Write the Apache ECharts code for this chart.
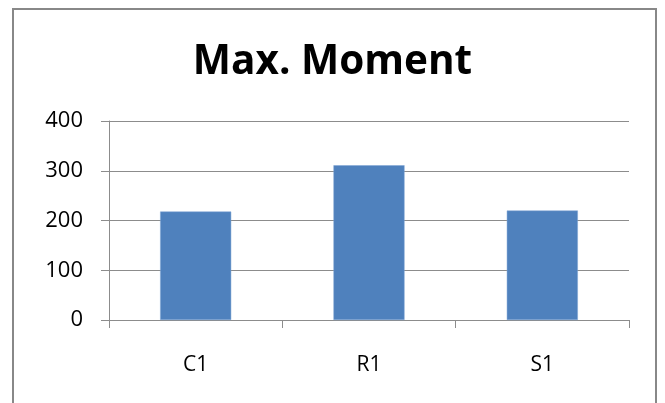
<!DOCTYPE html>
<html>
<head>
<meta charset="utf-8">
<script src="https://cdn.jsdelivr.net/npm/echarts@6/dist/echarts.min.js"></script>
<style>
html,body{margin:0;padding:0;background:#fff;}
#chart{width:665px;height:403px;}
</style>
</head>
<body>
<div id="chart"></div>
<script>
const categories = ['C1', 'R1', 'S1'];
const maxMoment = [218, 311, 220];
const yTicks = [0, 100, 200, 300, 400];

const chart = echarts.init(document.getElementById('chart'));
chart.setOption({
  animation: false,
  backgroundColor: '#fff',
  title: {
    text: 'Max. Moment',
    left: 'center',
    top: 37,
    textStyle: { fontFamily: 'Open Sans', fontWeight: 'bold', fontSize: 40.5, color: '#000' }
  },
  graphic: [{
    type: 'rect',
    shape: { x: 13, y: 9, width: 643, height: 420 },
    style: { fill: 'none', stroke: '#888888', lineWidth: 2 },
    silent: true
  }],
  grid: { left: 109, right: 36, top: 121, bottom: 83, containLabel: false },
  xAxis: {
    type: 'category',
    data: categories,
    axisLine: { show: true, lineStyle: { color: '#8c8c8c', width: 1 } },
    axisTick: { show: true, alignWithLabel: false, length: 8, lineStyle: { color: '#8c8c8c' } },
    axisLabel: { margin: 35, fontFamily: 'Open Sans', fontSize: 21, color: '#000' },
    splitLine: { show: false }
  },
  yAxis: {
    type: 'value',
    min: yTicks[0],
    max: yTicks[yTicks.length - 1],
    interval: 100,
    axisLine: { show: true, lineStyle: { color: '#8c8c8c', width: 1 } },
    axisTick: { show: true, length: 8, lineStyle: { color: '#8c8c8c' } },
    axisLabel: { margin: 26, fontFamily: 'Open Sans', fontSize: 22, color: '#000' },
    splitLine: { show: true, lineStyle: { color: '#8c8c8c', width: 1 } }
  },
  series: [{
    type: 'bar',
    data: maxMoment,
    barWidth: '41%',
    itemStyle: { color: '#4F81BD', borderColor: '#7fa5d4', borderWidth: 0.5 }
  }]
});
</script>
</body>
</html>
